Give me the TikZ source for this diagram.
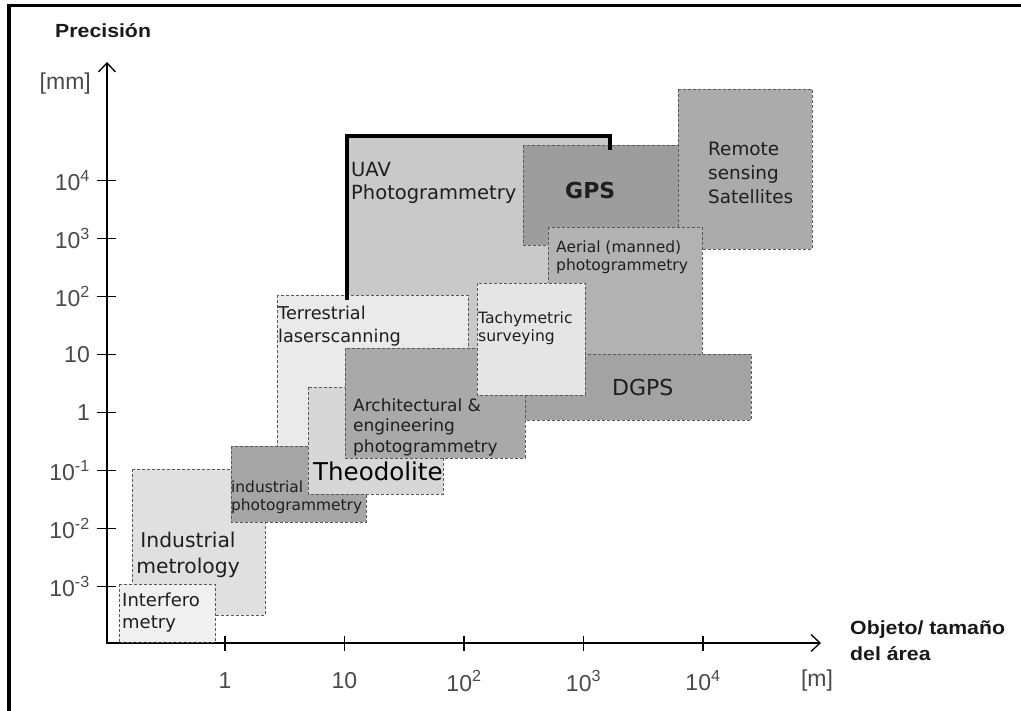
\documentclass[tikz,border=0pt]{standalone}
\usepackage{fontspec}
\setmainfont{DejaVu Sans}
\newfontfamily\axf{Liberation Sans}
\newfontfamily\axfs{Liberation Sans}[FakeStretch=1.12]
\usetikzlibrary{arrows.meta}
\definecolor{txt}{HTML}{1E1E1E}
\definecolor{tick}{HTML}{4A4A4A}
\newcommand{\fs}[2]{\fontsize{#1}{#2}\selectfont}
\begin{document}
\begin{tikzpicture}[x=1pt,y=-1pt,
  bx/.style={draw=black!65, densely dashed, line width=0.9pt},
  lbl/.style={anchor=north west, inner sep=0pt, align=left, text=txt},
  bl/.style={anchor=base west, inner sep=0pt, text=txt},
  axisline/.style={line width=1.4pt, {Straight Barb[length=9pt,width=17pt,line width=1.3pt]}-{Straight Barb[length=9pt,width=17pt,line width=1.3pt]}},
  tk/.style={line width=1.2pt},
  tl/.style={inner sep=0pt, text=tick, font=\axf\fs{23}{27}},
  thick uav/.style={line width=3.8pt, line cap=rect, line join=miter}
]
\useasboundingbox (0,0) rectangle (1021,711);
\fill[white] (0,0) rectangle (1021,711);
% frame
\draw[line width=3.5pt] (9,713) -- (9,5.5) -- (1023,5.5);

% axes
\coordinate (ytop) at (107,62);
\coordinate (O) at (107,643);
\coordinate (xend) at (821,643);
\draw[axisline] (ytop) -- (O) -- (xend);

% y ticks
\foreach \k/\lab [count=\i] in {4/10\textsuperscript{4},3/10\textsuperscript{3},2/10\textsuperscript{2},1/10,0/1,-1/10\textsuperscript{-1},-2/10\textsuperscript{-2},-3/10\textsuperscript{-3}}{
  \pgfmathsetmacro{\yy}{412.5-57.9*\k}
  \coordinate (ya\i) at (97,\yy);
  \coordinate (yb\i) at (116,\yy);
  \draw[tk] (ya\i) -- (yb\i);
  \node[tl, anchor=east] (ylab\i) at (90,\yy) {\lab};
}
% x ticks
\foreach \k/\lab [count=\i] in {0/1,1/10,2/10\textsuperscript{2},3/10\textsuperscript{3},4/10\textsuperscript{4}}{
  \pgfmathsetmacro{\xx}{225+119.5*\k}
  \coordinate (xa\i) at (\xx,636);
  \coordinate (xb\i) at (\xx,651);
  \draw[tk] (xa\i) -- (xb\i);
  \node[tl] (xlab\i) at (\xx,681) {\lab};
}
\node[tl] (xunit) at (817,681) {[m]};
\node[tl, anchor=east] (yunit) at (91,84) {[mm]};
\node[inner sep=0pt, anchor=base west, font=\axfs\bfseries\fs{19}{23}, text=black!90] (ytitle) at (55,38) {Precisión};
\node[inner sep=0pt, anchor=north west, align=left, font=\axfs\bfseries\fs{19}{26}, text=black!90] (xtitle) at (850,621) {Objeto/ tamaño\\del área};

% boxes (back to front)
\fill[fill={rgb,255:red,201;green,201;blue,201}] (346,135) rectangle (612,350);
\draw[bx, fill={rgb,255:red,157;green,157;blue,157}] (523,145) rectangle (679,245);
\draw[bx, fill={rgb,255:red,171;green,171;blue,171}] (678,89) rectangle (812,249);
\draw[bx, fill={rgb,255:red,178;green,178;blue,178}] (548,227) rectangle (702,354);
\draw[bx, fill={rgb,255:red,163;green,163;blue,163}] (523,354) rectangle (751,420);
\draw[bx, fill={rgb,255:red,234;green,234;blue,234}] (277,295) rectangle (468,450);
\draw[bx, fill={rgb,255:red,224;green,224;blue,224}] (132,469) rectangle (265,615);
\draw[bx, fill={rgb,255:red,240;green,240;blue,240}] (119,584) rectangle (215,642);
\draw[bx, fill={rgb,255:red,165;green,165;blue,165}] (231,446) rectangle (366,522);
\draw[bx, fill={rgb,255:red,215;green,215;blue,215}] (308,387) rectangle (443,494);
\draw[bx, fill={rgb,255:red,169;green,169;blue,169}] (345,348) rectangle (525,458);
\draw[bx, fill={rgb,255:red,229;green,229;blue,229}] (477,283) rectangle (585,395);

% UAV thick outline
\coordinate (u1) at (347,298);
\coordinate (u2) at (347,136);
\coordinate (u3) at (610,136);
\coordinate (u4) at (610,148);
\draw[thick uav] (u1) -- (u2) -- (u3) -- (u4);

% labels
\node[lbl, font=\fs{19.5}{23}] (uav) at (351,162) {UAV\\Photogrammetry};
\node[bl, font=\bfseries\fs{22}{26}] (gps) at (565,199) {GPS};
\node[lbl, font=\fs{18.4}{24}] (rs) at (708,142) {Remote\\sensing\\Satellites};
\node[lbl, font=\fs{15.5}{17.5}] (aer) at (556,241) {Aerial (manned)\\photogrammetry};
\node[lbl, font=\fs{15.6}{18}] (tach) at (478,311) {Tachymetric\\surveying};
\node[lbl, font=\fs{17.7}{22.5}] (terr) at (278,306) {Terrestrial\\laserscanning};
\node[lbl, font=\fs{17}{20.5}] (arch) at (353,398) {Architectural \&\\engineering\\photogrammetry};
\node[bl, font=\fs{24.5}{28}, text=black] (theo) at (313,481) {Theodolite};
\node[lbl, font=\fs{15.4}{18}] (indp) at (231,481) {industrial\\photogrammetry};
\node[lbl, anchor=north, align=center, font=\fs{20.3}{26}] (met) at (188,532) {Industrial\\metrology};
\node[lbl, font=\fs{18}{22}] (intf) at (122,593) {Interfero\\metry};
\node[bl, font=\fs{22}{26}] (dgps) at (612,396) {DGPS};
\end{tikzpicture}
\end{document}
